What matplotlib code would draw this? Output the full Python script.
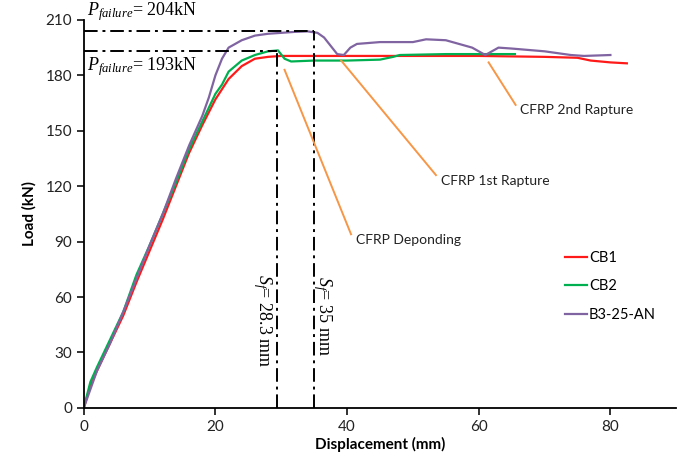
import matplotlib.pyplot as plt

# load-displacement data
cb1_x = [0, 1, 2, 4, 6, 8, 10, 12, 14, 16, 18, 20, 22, 24, 26, 28, 30, 35, 40, 50, 60, 70, 75, 77, 80, 82.5]
cb1_y = [0, 12, 20, 35, 50, 68, 85, 102, 120, 138, 153, 167, 178, 185, 189, 190, 190.5, 190.5, 190.5,
         190.5, 190.5, 190, 189.5, 188, 187, 186.5]

cb2_x = [0, 1, 2, 4, 6, 8, 10, 12, 14, 16, 18, 20, 21, 22, 24, 26, 28, 29.5, 30.5, 31.5, 35, 40, 45,
         47, 48, 55, 60, 65.5]
cb2_y = [0, 14, 22, 37, 52, 72, 88, 105, 122, 140, 155, 170, 175, 182, 188, 191, 193, 193.5, 189,
         187.5, 188, 188, 188.5, 190, 191, 191.5, 191.5, 191.5]

b3_x = [0, 1, 2, 4, 6, 8, 10, 12, 14, 16, 18, 19, 20, 21, 22, 24, 26, 28, 30, 32, 34, 35.5, 36.5, 37.5,
        38.5, 39.5, 40.5, 41.5, 45, 50, 52, 55, 57, 59, 61, 62, 63, 65, 70, 74, 76, 80]
b3_y = [0, 10, 20, 35, 52, 70, 88, 105, 124, 142, 158, 168, 180, 189, 195, 199, 201.5, 202.5, 203,
        203.5, 203.8, 203, 200.5, 196, 191.5, 191, 195, 197, 198, 198, 199.5, 199, 197, 195, 191,
        193, 195, 194.5, 193, 191, 190.5, 191]

p_fail = [204, 193]
s_fail = [35, 29.4]

# annotation (label, start point, end point)
notes = [
    ("CFRP Deponding", (30.5, 183), (40.6, 94)),
    ("CFRP 1st Rapture", (39.1, 188), (53.5, 126)),
    ("CFRP 2nd Rapture", (61.5, 187), (65.6, 164)),
]

plt.rcParams["font.family"] = ["Lato", "DejaVu Sans"]
plt.rcParams["mathtext.fontset"] = "custom"
plt.rcParams["mathtext.it"] = "Liberation Serif:italic"
plt.rcParams["mathtext.rm"] = "Liberation Serif"

fig = plt.figure(figsize=(6.81, 4.63), dpi=100)
ax = fig.add_axes([0.123, 0.119, 0.870, 0.838])

ax.plot(cb1_x, cb1_y, color="#ff1a1a", lw=1.6, label="CB1")
ax.plot(cb2_x, cb2_y, color="#00b050", lw=1.6, label="CB2")
ax.plot(b3_x, b3_y, color="#8064a2", lw=1.6, label="B3-25-AN")

# failure guide lines
for p, s in zip(p_fail, s_fail):
    ax.plot([0, s], [p, p], color="black", lw=1.4, dashes=(7, 2.5, 1.5, 2.5))
    ax.plot([s, s], [0, p], color="black", lw=1.4, dashes=(7, 2.5, 1.5, 2.5))

serif = dict(family="Liberation Serif", fontsize=13)
ax.text(0.5, 208.5, r"$P_{failure}$= 204kN", ha="left", va="bottom", clip_on=False, **serif)
ax.text(0.5, 191, r"$P_{failure}$= 193kN", ha="left", va="top", **serif)

ax.text(27.2, 47, r"$S_f$= 28.3 mm", rotation=-90, ha="center", va="center", **serif)
ax.text(36.2, 50, r"$S_f$= 35 mm", rotation=-90, ha="center", va="center", **serif)

for label, (x0, y0), (x1, y1) in notes:
    ax.plot([x0, x1], [y0, y1], color="#f79646", lw=1.4)
    ax.text(x1 + 0.7, y1 - 3, label, ha="left", va="center", fontsize=10, color="#222222")

ax.set_xlim(0, 90)
ax.set_ylim(0, 210)
ax.set_xticks([0, 20, 40, 60, 80])
ax.set_yticks(range(0, 211, 30))
ax.spines["top"].set_visible(False)
ax.spines["right"].set_visible(False)
ax.spines["left"].set_linewidth(1.3)
ax.spines["bottom"].set_linewidth(1.3)
ax.tick_params(direction="out", length=5, width=1.3, labelsize=11, colors="#222222")
ax.set_xlabel("Displacement (mm)", fontsize=11, fontweight="bold", labelpad=2)
ax.set_ylabel("Load (kN)", fontsize=11, fontweight="bold", labelpad=6)

ax.legend(loc="upper left", bbox_to_anchor=(0.812, 0.405), frameon=False, fontsize=10.5,
          handlelength=1.5, handletextpad=0.15, labelspacing=1.0, borderpad=0,
          borderaxespad=0)

fig.savefig("out.png", dpi=100)
